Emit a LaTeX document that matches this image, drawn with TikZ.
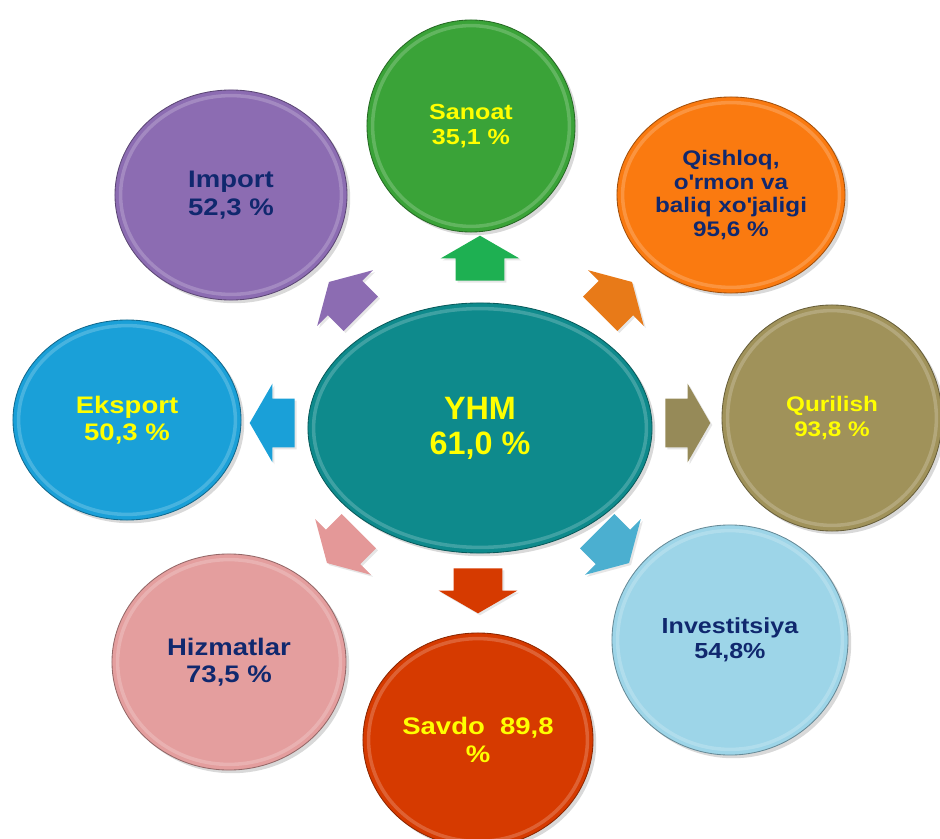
\documentclass[tikz,border=0pt]{standalone}
\usepackage{fontspec}
\setmainfont{Liberation Sans}[FakeStretch=1.15]
\newfontfamily\hubfont{Liberation Sans}
\usetikzlibrary{shapes.geometric,shapes.arrows,shadows,calc}

\definecolor{cYHM}{RGB}{14,138,140}
\definecolor{cSanoat}{RGB}{58,163,56}
\definecolor{cQishloq}{RGB}{250,122,16}
\definecolor{cQurilish}{RGB}{160,146,90}
\definecolor{cInvest}{RGB}{157,213,232}
\definecolor{cSavdo}{RGB}{214,58,0}
\definecolor{cHizmat}{RGB}{228,158,158}
\definecolor{cEksport}{RGB}{26,160,216}
\definecolor{cImport}{RGB}{140,108,178}
\definecolor{aGreen}{RGB}{30,176,82}
\definecolor{aOrange}{RGB}{232,122,24}
\definecolor{aOlive}{RGB}{150,138,88}
\definecolor{aBlue}{RGB}{75,175,208}
\definecolor{aPink}{RGB}{228,152,152}
\definecolor{tYellow}{RGB}{255,255,0}
\definecolor{tNavy}{RGB}{16,40,110}

\begin{document}
\begin{tikzpicture}[x=0.025cm,y=-0.025cm,
				bubble/.style={ellipse,fill=#1,draw=#1!65!black,line width=.6pt,inner sep=0pt,
					align=center,font=\fontsize{15.5}{18}\selectfont\bfseries,
					drop shadow={opacity=.3,shadow xshift=.8mm,shadow yshift=-.8mm},
					path picture={\draw[white,opacity=.2,line width=2.5pt]
						let \p1=(path picture bounding box.north east),\p2=(path picture bounding box.center)
						in (\p2) ellipse [x radius=\x1-\x2-4pt,y radius=\y1-\y2-4pt];}},
				bigtext/.style={font=\fontsize{17}{19.5}\selectfont\bfseries},
				barrow/.style={single arrow,fill=#1,draw=none,inner xsep=0pt,inner ysep=.6cm,
					single arrow head extend=.375cm,single arrow tip angle=120,
					minimum height=1.125cm,anchor=tail,
					drop shadow={opacity=.2,shadow xshift=.5mm,shadow yshift=-.5mm}}]
				\useasboundingbox (0,0) rectangle (940,839);

				% arrows out of the hub
				\node (upA)    [barrow=aGreen,rotate=90]    at (480,281) {};
				\node (urA)    [barrow=aOrange,rotate=45]   at (600,314) {};
				\node (rA)     [barrow=aOlive,rotate=0]     at (665,423) {};
				\node (drA)    [barrow=aBlue,rotate=-45]    at (597,531) {};
				\node (dnA)    [barrow=cSavdo,rotate=-90]   at (478,568) {};
				\node (dlA)    [barrow=aPink,rotate=-135]   at (359,531) {};
				\node (lA)     [barrow=cEksport,rotate=180] at (295,423) {};
				\node (ulA)    [barrow=cImport,rotate=135]  at (361,314) {};

				% hub and sectors
				\node (yhm)    [bubble=cYHM,minimum width=8.6cm,minimum height=6.25cm,
					font=\hubfont\fontsize{23}{25}\selectfont\bfseries,text=tYellow] at (480,428) {YHM\\61,0 \%};
				\node (sanoat) [bubble=cSanoat,minimum width=5.2cm,minimum height=5.3cm,text=tYellow]
					at (471,126) {Sanoat\\35,1 \%};
				\node (qishloq) [bubble=cQishloq,minimum width=5.7cm,minimum height=4.9cm,text=tNavy,
					font=\fontsize{15}{16.8}\selectfont\bfseries]
					at (731,195) {Qishloq,\\o\textquotesingle rmon va\\baliq xo\textquotesingle jaligi\\95,6 \%};
				\node (qurilish) [bubble=cQurilish,minimum width=5.5cm,minimum height=5.65cm,text=tYellow,
					font=\fontsize{15}{17.5}\selectfont\bfseries]
					at (832,418) {Qurilish\\93,8 \%};
				\node (invest) [bubble=cInvest,minimum width=5.9cm,minimum height=5.75cm,text=tNavy]
					at (730,640) {Investitsiya\\54,8\%};
				\node (savdo)  [bubble=cSavdo,minimum width=5.75cm,minimum height=5.35cm,text=tYellow,bigtext]
					at (478,740) {Savdo\ \ 89,8\\\%};
				\node (hizmat) [bubble=cHizmat,minimum width=5.85cm,minimum height=5.4cm,text=tNavy,bigtext]
					at (229,662) {Hizmatlar\\73,5 \%};
				\node (eksport) [bubble=cEksport,minimum width=5.7cm,minimum height=5cm,text=tYellow,bigtext]
					at (127,420) {Eksport\\50,3 \%};
				\node (import) [bubble=cImport,minimum width=5.8cm,minimum height=5.25cm,text=tNavy,bigtext]
					at (231,195) {Import\\52,3 \%};
			\end{tikzpicture}
\end{document}
